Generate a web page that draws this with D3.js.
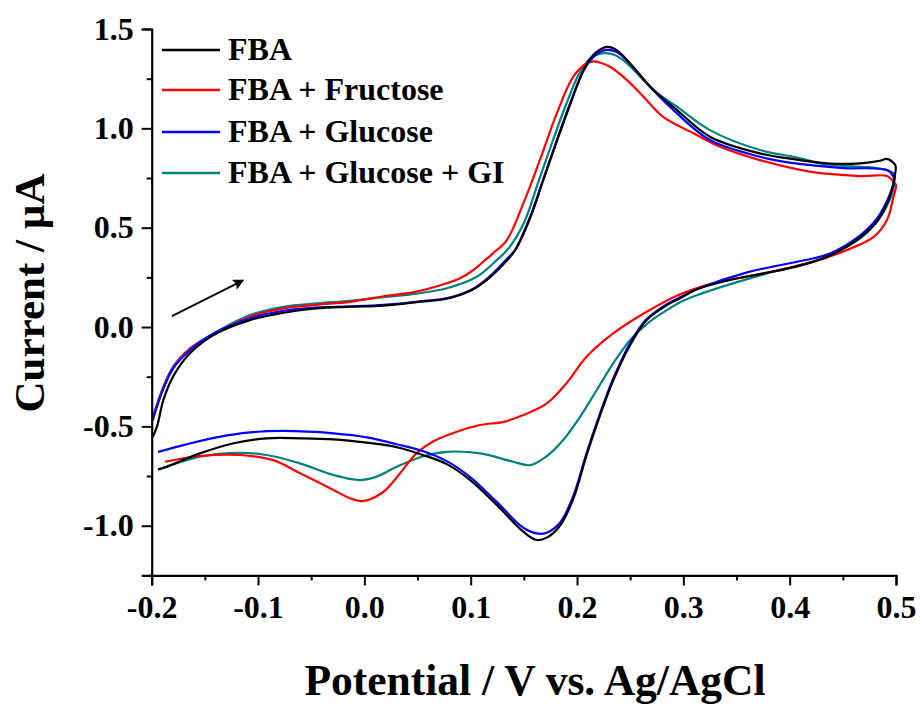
<!DOCTYPE html>
<html><head><meta charset="utf-8">
<script src="https://cdn.jsdelivr.net/npm/d3@7"></script>
<style>
html,body{margin:0;padding:0;background:#fff;}
</style></head>
<body>
<svg id="chart" width="920" height="704"></svg>
<script>
// ---- data (potential V, current µA) ----
const seriesNames = ["FBA", "FBA + Fructose", "FBA + Glucose", "FBA + Glucose + GI"];
const seriesColors = ["#000000", "#ff0000", "#0000ff", "#008080"];

const fba = [
 [-0.199,-0.553],[-0.195,-0.50],[-0.189,-0.367],[-0.18,-0.25],[-0.164,-0.132],[-0.139,-0.032],[-0.1075,0.035],[-0.076,0.072],[-0.045,0.094],[-0.0135,0.102],[0.018,0.108],[0.049,0.125],[0.081,0.146],[0.1025,0.19],[0.118,0.25],[0.134,0.335],[0.142,0.388],[0.156,0.55],[0.168,0.735],[0.181,0.935],[0.1935,1.12],[0.206,1.29],[0.2155,1.37],[0.228,1.41],[0.237,1.395],[0.247,1.344],[0.272,1.193],[0.294,1.092],[0.325,0.958],[0.372,0.874],[0.4036,0.845],[0.435,0.824],[0.466,0.824],[0.485,0.837],[0.4915,0.846],[0.4993,0.815],[0.4993,0.774],
 [0.4976,0.723],[0.4915,0.62],[0.482,0.53],[0.466,0.45],[0.438,0.36],[0.407,0.305],[0.3755,0.27],[0.344,0.237],[0.3127,0.19],[0.297,0.145],[0.2845,0.11],[0.2655,0.035],[0.25,-0.09],[0.234,-0.27],[0.222,-0.44],[0.209,-0.645],[0.1965,-0.865],[0.184,-1.0],[0.1715,-1.06],[0.162,-1.072],[0.1495,-1.03],[0.1245,-0.895],[0.0995,-0.77],[0.0775,-0.69],[0.0555,-0.645],[0.0305,-0.605],[0.0023,-0.582],[-0.029,-0.565],[-0.0605,-0.56],[-0.092,-0.56],[-0.123,-0.585],[-0.1546,-0.636],[-0.186,-0.703],[-0.194,-0.716]
];
const fructose = [
 [-0.199,-0.46],[-0.189,-0.305],[-0.18,-0.205],[-0.164,-0.11],[-0.139,-0.03],[-0.1075,0.052],[-0.076,0.094],[-0.045,0.112],[-0.0135,0.127],[0.018,0.155],[0.049,0.178],[0.0775,0.22],[0.09,0.245],[0.1025,0.287],[0.112,0.33],[0.121,0.371],[0.134,0.438],[0.1495,0.622],[0.165,0.84],[0.181,1.075],[0.1965,1.26],[0.2085,1.325],[0.2155,1.337],[0.222,1.33],[0.231,1.31],[0.247,1.243],[0.2625,1.159],[0.281,1.058],[0.3095,0.975],[0.3346,0.907],[0.372,0.84],[0.419,0.782],[0.466,0.76],[0.4915,0.76],[0.4976,0.731],[0.500,0.715],
 [0.4976,0.656],[0.4915,0.539],[0.479,0.454],[0.454,0.388],[0.4224,0.329],[0.3755,0.27],[0.328,0.22],[0.297,0.165],[0.2655,0.077],[0.234,-0.032],[0.209,-0.149],[0.19,-0.283],[0.1716,-0.384],[0.1495,-0.443],[0.131,-0.477],[0.109,-0.493],[0.087,-0.527],[0.065,-0.575],[0.049,-0.636],[0.0336,-0.736],[0.018,-0.829],[-0.001,-0.876],[-0.0135,-0.862],[-0.029,-0.82],[-0.0605,-0.736],[-0.0856,-0.67],[-0.117,-0.644],[-0.1546,-0.649],[-0.1875,-0.678]
];
const glucose = [
 [-0.199,-0.47],[-0.195,-0.40],[-0.189,-0.31],[-0.18,-0.21],[-0.164,-0.117],[-0.139,-0.025],[-0.1075,0.044],[-0.076,0.082],[-0.045,0.098],[-0.0135,0.104],[0.018,0.112],[0.049,0.127],[0.081,0.15],[0.1025,0.193],[0.118,0.255],[0.134,0.343],[0.142,0.39],[0.156,0.555],[0.168,0.74],[0.181,0.94],[0.1935,1.125],[0.206,1.29],[0.2155,1.36],[0.2264,1.394],[0.237,1.385],[0.247,1.34],[0.272,1.19],[0.294,1.075],[0.325,0.941],[0.372,0.857],[0.4036,0.825],[0.4506,0.80],[0.4915,0.79],[0.4976,0.757],
 [0.4976,0.72],[0.4915,0.635],[0.482,0.545],[0.466,0.46],[0.438,0.37],[0.4224,0.346],[0.36,0.275],[0.3127,0.19],[0.297,0.15],[0.2845,0.115],[0.2655,0.04],[0.25,-0.08],[0.234,-0.26],[0.222,-0.43],[0.209,-0.635],[0.1965,-0.85],[0.184,-0.985],[0.1715,-1.035],[0.1637,-1.04],[0.1495,-1.01],[0.1245,-0.88],[0.0995,-0.755],[0.0775,-0.675],[0.0555,-0.625],[0.0305,-0.59],[0.0023,-0.555],[-0.029,-0.535],[-0.076,-0.523],[-0.1075,-0.53],[-0.139,-0.555],[-0.17,-0.594],[-0.194,-0.628]
];
const glucoseGI = [
 [-0.199,-0.451],[-0.189,-0.30],[-0.18,-0.20],[-0.164,-0.107],[-0.139,-0.024],[-0.1075,0.06],[-0.076,0.102],[-0.045,0.119],[-0.0135,0.132],[0.018,0.15],[0.049,0.168],[0.0775,0.195],[0.1057,0.253],[0.1245,0.337],[0.1355,0.395],[0.1505,0.53],[0.163,0.72],[0.176,0.92],[0.189,1.11],[0.2015,1.27],[0.212,1.35],[0.2233,1.377],[0.235,1.37],[0.247,1.327],[0.272,1.193],[0.294,1.109],[0.325,0.991],[0.372,0.891],[0.4036,0.857],[0.435,0.818],[0.482,0.799],[0.4976,0.774],
 [0.4976,0.70],[0.4915,0.61],[0.482,0.53],[0.466,0.445],[0.438,0.36],[0.4224,0.329],[0.3755,0.265],[0.3127,0.16],[0.297,0.125],[0.2845,0.085],[0.2655,0.015],[0.25,-0.065],[0.234,-0.183],[0.2186,-0.317],[0.203,-0.451],[0.187,-0.569],[0.1716,-0.65],[0.156,-0.695],[0.14,-0.678],[0.109,-0.636],[0.0775,-0.628],[0.0555,-0.65],[0.0305,-0.703],[0.0117,-0.753],[-0.004,-0.77],[-0.029,-0.745],[-0.0605,-0.686],[-0.092,-0.644],[-0.117,-0.633],[-0.1546,-0.653],[-0.194,-0.72]
];
const seriesData = [fba, fructose, glucose, glucoseGI];
const drawOrder = [3, 1, 2, 0];

const xTicks = [-0.2, -0.1, 0.0, 0.1, 0.2, 0.3, 0.4, 0.5];
const xMinor = [-0.15, -0.05, 0.05, 0.15, 0.25, 0.35, 0.45];
const yTicks = [-1.0, -0.5, 0.0, 0.5, 1.0, 1.5];
const yMinor = [-1.25, -0.75, -0.25, 0.25, 0.75, 1.25];
const arrowFrom = [-0.181, 0.055];
const arrowTo = [-0.114, 0.235];
const xTitle = "Potential / V vs. Ag/AgCl";
const yTitle = "Current / \u00B5A";

// ---- drawing ----
const FONT = "'Liberation Serif', 'Times New Roman', Tinos, 'DejaVu Serif', serif";
const svg = d3.select("#chart");
const x = d3.scaleLinear().domain([-0.2, 0.5]).range([151.7, 896]);
const y = d3.scaleLinear().domain([-1.25, 1.5]).range([575.4, 29]);

svg.append("defs").append("marker")
  .attr("id","ah").attr("viewBox","0 0 10 10").attr("refX",9).attr("refY",5)
  .attr("markerWidth",7.5).attr("markerHeight",5.5).attr("orient","auto")
  .attr("markerUnits","strokeWidth")
  .append("path").attr("d","M0,0 L10,5 L0,10 L2,5 Z").attr("fill","#000");

const line = d3.line().x(d => x(d[0])).y(d => y(d[1])).curve(d3.curveCatmullRom.alpha(0.5));

drawOrder.forEach(i => {
  svg.append("path").datum(seriesData[i])
    .attr("d", line).attr("fill","none")
    .attr("stroke", seriesColors[i]).attr("stroke-width", 2.2)
    .attr("stroke-linejoin","round");
});

const fmt = d => d3.format(".1f")(d).replace("\u2212","-");
const xAxis = svg.append("g").attr("transform", `translate(0,${y(-1.25)})`)
  .call(d3.axisBottom(x).tickValues(xTicks).tickSize(10).tickPadding(10).tickFormat(fmt));
svg.append("g").attr("transform", `translate(0,${y(-1.25)})`)
  .call(d3.axisBottom(x).tickValues(xMinor).tickSize(5).tickFormat(""))
  .call(g => g.select(".domain").remove());
const yAxis = svg.append("g").attr("transform", `translate(${x(-0.2)},0)`)
  .call(d3.axisLeft(y).tickValues(yTicks).tickSize(10).tickPadding(8).tickFormat(fmt));
svg.append("g").attr("transform", `translate(${x(-0.2)},0)`)
  .call(d3.axisLeft(y).tickValues(yMinor).tickSize(5).tickFormat(""))
  .call(g => g.select(".domain").remove());

svg.selectAll("g").attr("font-family", FONT);
svg.selectAll(".domain").attr("stroke","#000").attr("stroke-width",2.2);
svg.selectAll(".tick line").attr("stroke","#000").attr("stroke-width",2);
svg.selectAll(".tick text").attr("font-size",32).attr("font-family",FONT)
  .attr("font-weight","bold").attr("fill","#000");
xAxis.selectAll(".tick text").attr("dy","0.72em");

svg.append("text").attr("x", 535).attr("y", 695).attr("text-anchor","middle")
  .attr("font-family",FONT).attr("font-weight","bold")
  .attr("font-size", 43.5).text(xTitle);
svg.append("text").attr("transform","translate(44,293) rotate(-90)")
  .attr("font-family",FONT).attr("font-weight","bold")
  .attr("text-anchor","middle").attr("font-size", 43).text(yTitle);

const lg = svg.append("g");
seriesNames.forEach((n, i) => {
  const ly = [50, 90, 132, 173][i];
  lg.append("line").attr("x1",162).attr("x2",220).attr("y1",ly).attr("y2",ly)
    .attr("stroke", seriesColors[i]).attr("stroke-width", 2.5);
  lg.append("text").attr("x",228).attr("y",ly + 10)
    .attr("font-family",FONT).attr("font-weight","bold")
    .attr("font-size",32).text(n);
});

svg.append("line")
  .attr("x1", x(arrowFrom[0])).attr("y1", y(arrowFrom[1]))
  .attr("x2", x(arrowTo[0])).attr("y2", y(arrowTo[1]))
  .attr("stroke","#000").attr("stroke-width",2).attr("marker-end","url(#ah)");
</script>
</body></html>
